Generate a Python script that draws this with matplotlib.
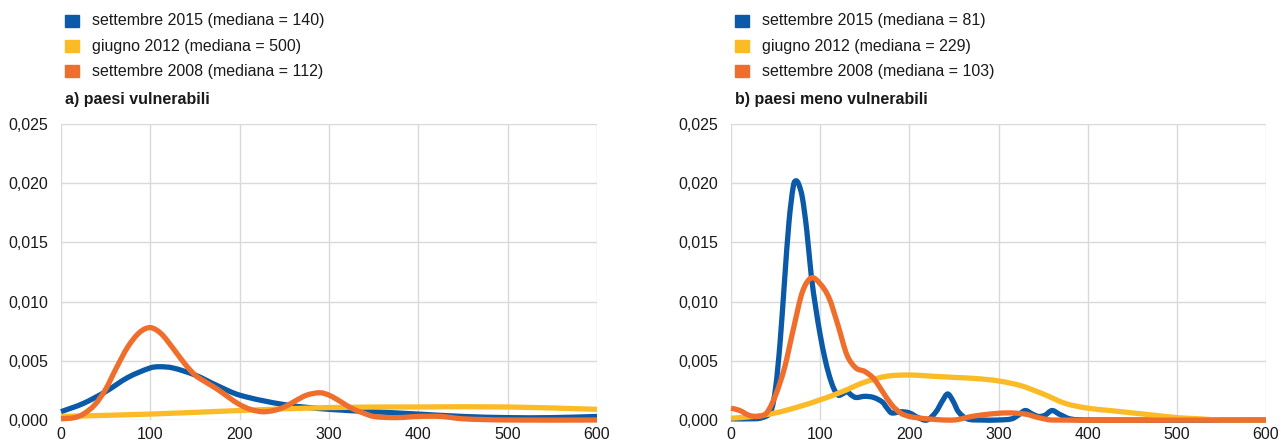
import matplotlib
matplotlib.use('Agg')
import matplotlib.pyplot as plt
from matplotlib.patches import Rectangle, PathPatch
from matplotlib.path import Path
from matplotlib.ticker import FuncFormatter

plt.rcParams['font.family'] = ['Liberation Sans', 'DejaVu Sans']

# colori delle serie
c_2015 = '#0a5aa8'
c_2012 = '#fbbb27'
c_2008 = '#ef6e2c'

# a) paesi vulnerabili
a_x_2015 = [0, 25, 50, 75, 100, 110, 125, 150, 175, 200, 250, 300, 350, 400, 450, 500, 550, 600]
a_y_2015 = [0.0007, 0.0014, 0.0024, 0.0036, 0.0044, 0.0045, 0.0044, 0.0038, 0.0029, 0.0021, 0.0013, 0.0009,
            0.0007, 0.0005, 0.0003, 0.0002, 0.0002, 0.0003]
a_x_2012 = [0, 100, 200, 300, 400, 500, 600]
a_y_2012 = [0.0003, 0.0005, 0.0008, 0.00105, 0.0011, 0.0011, 0.0009]
a_x_2008 = [0, 15, 25, 38, 50, 62, 75, 88, 100, 112, 125, 138, 150, 162, 175, 188, 200, 212, 225, 238, 250, 262,
            275, 290, 300, 312, 325, 338, 350, 375, 400, 425, 450, 500, 600]
a_y_2008 = [0.0001, 0.0002, 0.0005, 0.0013, 0.0026, 0.0044, 0.0062, 0.0074, 0.0078, 0.0073, 0.0061, 0.0048,
            0.0038, 0.0032, 0.0026, 0.0019, 0.0013, 0.0009, 0.0007, 0.0008, 0.0011, 0.0016, 0.0021, 0.0023,
            0.0021, 0.0016, 0.0010, 0.0006, 0.0003, 0.0002, 0.0003, 0.0003, 0.0001, 0.0, 0.0]

# b) paesi meno vulnerabili
b_x_2015 = [0, 20, 35, 45, 50, 55, 60, 65, 70, 73, 76, 80, 85, 90, 95, 100, 105, 110, 115, 120, 125, 130, 135,
            140, 150, 160, 170, 175, 180, 190, 200, 210, 220, 230, 237, 243, 249, 255, 265, 280, 300, 315, 322,
            330, 338, 345, 352, 360, 368, 380, 400, 600]
b_y_2015 = [0.0001, 0.0001, 0.0002, 0.0008, 0.0027, 0.0065, 0.0117, 0.0167, 0.0198, 0.0202, 0.0199, 0.0188,
            0.0160, 0.0122, 0.0095, 0.0072, 0.0053, 0.0038, 0.0027, 0.0021, 0.0022, 0.0024, 0.0021, 0.0019,
            0.0020, 0.0019, 0.0015, 0.0010, 0.0006, 0.0007, 0.0006, 0.0002, 0.0, 0.0007, 0.0016, 0.0022,
            0.0016, 0.0007, 0.0001, 0.0, 0.0, 0.0001, 0.0004, 0.0008, 0.0005, 0.0003, 0.0004, 0.0008, 0.0005,
            0.0001, 0.0, 0.0]
b_x_2012 = [0, 25, 50, 75, 100, 125, 150, 175, 200, 225, 250, 275, 300, 325, 350, 375, 400, 425, 450, 475, 500,
            525, 550, 600]
b_y_2012 = [0.00015, 0.0003, 0.0006, 0.0011, 0.0017, 0.0024, 0.0032, 0.0037, 0.0038, 0.0037, 0.0036, 0.0035,
            0.0033, 0.0029, 0.0022, 0.0014, 0.0010, 0.0008, 0.0006, 0.0004, 0.0002, 0.0001, 0.0, 0.0]
b_x_2008 = [0, 10, 20, 30, 40, 50, 60, 70, 80, 90, 100, 110, 120, 130, 140, 150, 160, 170, 180, 190, 200, 220,
            250, 270, 290, 310, 330, 345, 360, 600]
b_y_2008 = [0.0010, 0.0008, 0.0004, 0.0003, 0.0006, 0.0021, 0.0044, 0.0077, 0.0108, 0.0120, 0.0115, 0.0103,
            0.0080, 0.0055, 0.0044, 0.0041, 0.0035, 0.0024, 0.0013, 0.0006, 0.0003, 0.0001, 0.0, 0.0003,
            0.0005, 0.0006, 0.0005, 0.0002, 0.0, 0.0]

a_labels = ['settembre 2015 (mediana = 140)', 'giugno 2012 (mediana = 500)', 'settembre 2008 (mediana = 112)']
b_labels = ['settembre 2015 (mediana = 81)', 'giugno 2012 (mediana = 229)', 'settembre 2008 (mediana = 103)']

W, H = 1282, 448
fig = plt.figure(figsize=(W / 100, H / 100), dpi=100)


def linea_smussata(xs, ys):
    # curva di Hermite (bezier cubiche) passante per i punti letti
    n = len(xs)
    m = []
    for i in range(n):
        a, b = max(i - 1, 0), min(i + 1, n - 1)
        m.append((ys[b] - ys[a]) / (xs[b] - xs[a]))
    verts = [(xs[0], ys[0])]
    codes = [Path.MOVETO]
    for i in range(n - 1):
        d = (xs[i + 1] - xs[i]) / 3
        verts += [(xs[i] + d, ys[i] + m[i] * d), (xs[i + 1] - d, ys[i + 1] - m[i + 1] * d), (xs[i + 1], ys[i + 1])]
        codes += [Path.CURVE4] * 3
    return Path(verts, codes)


def pannello(x0, x1, serie, labels, titolo):
    ax = fig.add_axes([x0 / W, (H - 420) / H, (x1 - x0) / W, (420 - 124) / H])
    for xs, ys, col in serie:
        ax.add_patch(PathPatch(linea_smussata(xs, ys), fill=False, edgecolor=col, lw=3.8,
                               joinstyle='round', capstyle='butt', clip_on=False, zorder=3))
    ax.set_xlim(0, 600)
    ax.set_ylim(0, 0.025)
    ax.set_xticks(range(0, 601, 100))
    ax.set_yticks([0, 0.005, 0.010, 0.015, 0.020, 0.025])
    ax.yaxis.set_major_formatter(FuncFormatter(lambda v, p: f'{v:.3f}'.replace('.', ',')))
    ax.grid(True, color='#d9d9d9', lw=1)
    ax.set_axisbelow(True)
    for s in ax.spines.values():
        s.set_visible(False)
    ax.tick_params(length=0, labelsize=11.5, colors='#1a1a1a')
    ax.tick_params(axis='y', pad=9)
    ax.tick_params(axis='x', pad=5)
    # legenda
    for i, (lab, col) in enumerate(zip(labels, [c[2] for c in serie])):
        yc = 21 + 25 * i
        fig.patches.append(Rectangle(((x0 + 4) / W, (H - yc - 6) / H), 14 / W, 12 / H,
                                     transform=fig.transFigure, color=col))
        fig.text((x0 + 31) / W, (H - yc) / H, lab, fontsize=11.5, va='center', color='#1a1a1a')
    fig.text((x0 + 4) / W, (H - 99) / H, titolo, fontsize=11.5, fontweight='bold', va='center', color='#1a1a1a')
    return ax


pannello(61, 597, [(a_x_2015, a_y_2015, c_2015), (a_x_2012, a_y_2012, c_2012), (a_x_2008, a_y_2008, c_2008)],
         a_labels, 'a) paesi vulnerabili')
pannello(731, 1266, [(b_x_2015, b_y_2015, c_2015), (b_x_2012, b_y_2012, c_2012), (b_x_2008, b_y_2008, c_2008)],
         b_labels, 'b) paesi meno vulnerabili')

fig.savefig('out.png', dpi=100)
